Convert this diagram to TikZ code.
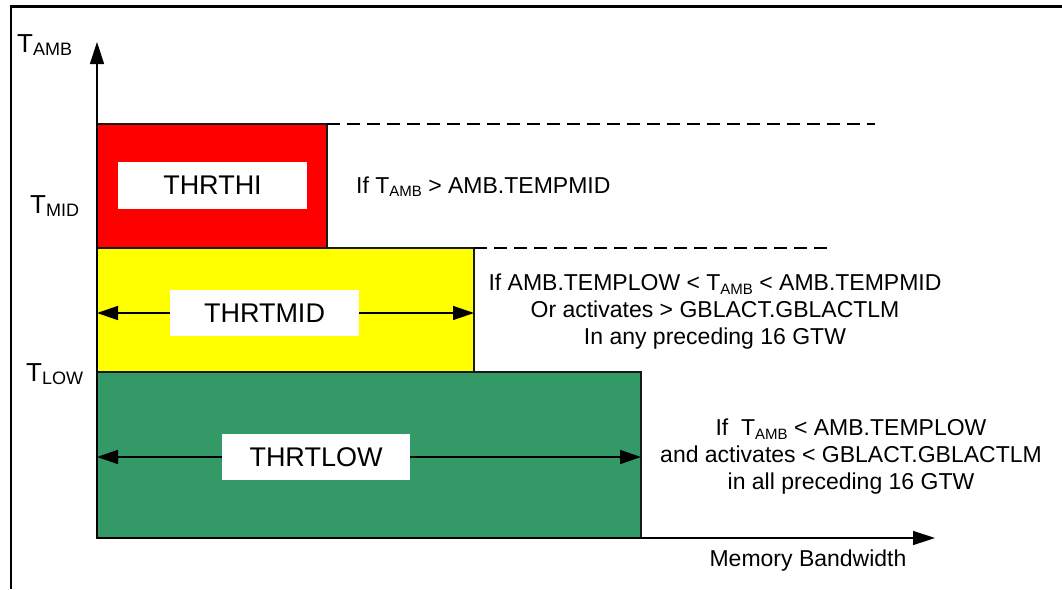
\documentclass[tikz,border=0pt]{standalone}
\usepackage{fontspec}
\setmainfont{Liberation Sans}
\usetikzlibrary{arrows.meta}
\definecolor{zred}{HTML}{FF0000}
\definecolor{zyel}{HTML}{FFFF00}
\definecolor{zgrn}{HTML}{339966}
\newcommand\sbc[1]{\raisebox{-3.5pt}{\fontsize{15}{15}\selectfont #1}}
\newcommand\sbl[1]{\raisebox{-3pt}{\fontsize{18}{18}\selectfont #1}}
\tikzset{
  zone/.style={draw=black!90, line width=1.4pt, inner sep=0pt, outer sep=0pt, anchor=north west},
  lblbox/.style={fill=white, inner sep=0pt, outer sep=0pt, font=\fontsize{27}{27}\selectfont},
  arr/.style={line width=1.4pt, -{Triangle[length=21pt,width=14pt]}},
  axisline/.style={line width=1.4pt, -{Triangle[length=22pt,width=14pt]}},
  dashline/.style={line width=2.6pt, dash pattern=on 13pt off 7pt},
  cond/.style={font=\fontsize{23}{27}\selectfont, inner sep=0pt, align=center},
  axlbl/.style={font=\fontsize{26}{26}\selectfont, inner sep=0pt, anchor=base west},
}
\begin{document}
\begin{tikzpicture}[x=1pt,y=-1pt]
\useasboundingbox (0,0) rectangle (1062,589);
% frame
\coordinate (fb) at (11,589);
\coordinate (fa) at (11,6.5);
\coordinate (fc) at (1062,6.5);
\draw[line width=2.5pt] (fb) -- (fa) -- (fc);
% zones
\node[zone, fill=zgrn, minimum width=544pt, minimum height=166pt] (low) at (97,372) {};
\node[zone, fill=zyel, minimum width=377pt, minimum height=124pt] (mid) at (97,248) {};
\node[zone, fill=zred, minimum width=230pt, minimum height=124pt] (hi) at (97,124) {};
% axes
\coordinate (O) at (97,538);
\coordinate (ytip) at (97,42);
\coordinate (xtip) at (935,538);
\draw[axisline] (O) -- (ytip);
\draw[axisline] (O) -- (xtip);
% dashed limits
\coordinate (d1) at (875,124);
\coordinate (d2) at (833,248);
\draw[dashline] (hi.north east) -- (d1);
\draw[dashline] (mid.north east) -- (d2);
% labels in zones
\node[lblbox, minimum width=189pt, minimum height=47pt] (thi) at (212.5,185.5) {THRTHI};
\node[lblbox, minimum width=189pt, minimum height=46pt] (tmid) at (264.5,313) {THRTMID};
\node[lblbox, minimum width=188pt, minimum height=46pt] (tlow) at (316,457) {THRTLOW};
\draw[arr] (tmid.west) -- (tmid.west -| mid.west);
\draw[arr] (tmid.east) -- (tmid.east -| mid.east);
\draw[arr] (tlow.west) -- (tlow.west -| low.west);
\draw[arr] (tlow.east) -- (tlow.east -| low.east);
% conditions
\node[cond, anchor=base west] (c1) at (356,193) {If T\sbc{AMB} > AMB.TEMPMID};
\node[cond] (c2) at (715,312) {If AMB.TEMPLOW < T\sbc{AMB} < AMB.TEMPMID\\Or activates > GBLACT.GBLACTLM\\In any preceding 16 GTW};
\node[cond] (c3) at (851,457) {If\ \ T\sbc{AMB} < AMB.TEMPLOW\\and activates < GBLACT.GBLACTLM\\in all preceding 16 GTW};
\node[cond] (xl) at (808,561) {Memory Bandwidth};
% axis labels
\node[axlbl] (tamb) at (17,52) {T\sbl{AMB}};
\node[axlbl] (tmidl) at (30,213) {T\sbl{MID}};
\node[axlbl] (tlowl) at (26,381) {T\sbl{LOW}};
\end{tikzpicture}
\end{document}
